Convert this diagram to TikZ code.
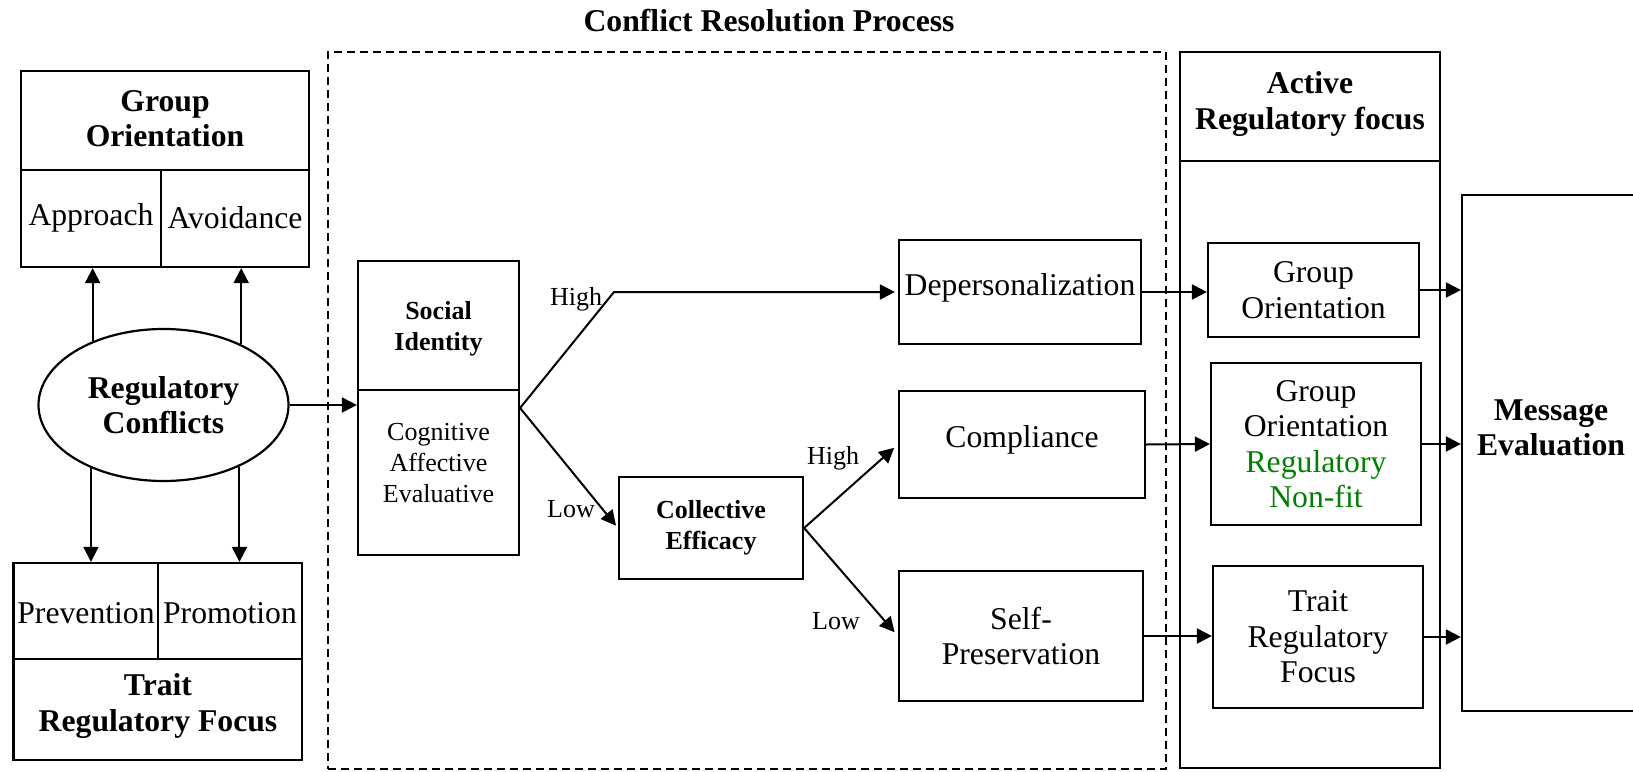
\documentclass[tikz,border=0pt]{standalone}
\usepackage{fontspec}
\setmainfont{Liberation Serif}
\usetikzlibrary{arrows.meta,shapes.geometric}

\definecolor{fitgreen}{RGB}{0,128,0}
\newcommand{\mainsize}{\fontsize{31.7}{35.5}\selectfont}
\newcommand{\labelsize}{\fontsize{26}{31}\selectfont}

\tikzset{
  frame/.style={draw, line width=2.2pt, inner sep=0pt},
  cell/.style={inner sep=0pt, align=center, font=\mainsize},
  smallcell/.style={inner sep=0pt, align=center, font=\labelsize},
  conn/.style={line width=2pt, -{Triangle[length=15pt,width=15pt]}},
  rule/.style={line width=2.2pt},
}

\begin{document}
\begin{tikzpicture}[x=1pt,y=-1pt]
\useasboundingbox (0,0) rectangle (1633,771);
\clip (0,0) rectangle (1633,771);
\fill[white] (0,0) rectangle (1633,771);

% heading and dashed process region
\node[cell, font=\mainsize\bfseries] (title) at (769,21) {Conflict Resolution Process};
\node[draw, line width=2pt, dash pattern=on 8pt off 5pt, inner sep=0pt,
      minimum width=838pt, minimum height=717pt] (process) at (747,410.5) {};

% group orientation (top left)
\node[frame, minimum width=288pt, minimum height=196pt] (goOuter) at (165,169) {};
\draw[rule] (goOuter.west |- 0,170) -- (goOuter.east |- 0,170);
\draw[rule] (161,170) -- (161,267);
\node[cell, font=\mainsize\bfseries] (goTitle) at (165,118.5) {Group\\Orientation};
\node[cell] (approach) at (91,218) {Approach};
\node[cell] (avoidance) at (235,218) {Avoidance};

% trait regulatory focus (bottom left)
\node[frame, minimum width=288.5pt, minimum height=197pt] (trOuter) at (157.75,661.5) {};
\draw[rule] (trOuter.west |- 0,659) -- (trOuter.east |- 0,659);
\draw[rule] (158,563) -- (158,659);
\node[cell] (prevention) at (86,613) {Prevention};
\node[cell] (promotion) at (230,613) {Promotion};
\node[cell, font=\mainsize\bfseries] (trTitle) at (158,706) {Trait\\Regulatory Focus};

% regulatory conflicts
\node[ellipse, draw, line width=2.2pt, minimum width=250pt, minimum height=152pt,
      inner sep=0pt, cell, font=\mainsize\bfseries] (rc) at (163.5,405) {Regulatory\\Conflicts};
\draw[conn] (rc.138.92) -- (rc.138.92 |- goOuter.south);
\draw[conn] (rc.38.45) -- (rc.38.45 |- goOuter.south);
\draw[conn] (rc.221.08) -- (rc.221.08 |- trOuter.north);
\draw[conn] (rc.321.55) -- (rc.321.55 |- trOuter.north);

% social identity
\node[frame, minimum width=161pt, minimum height=294pt] (si) at (438.5,408) {};
\draw[rule] (si.west |- 0,390) -- (si.east |- 0,390);
\node[smallcell, font=\labelsize\bfseries] (siTitle) at (438.5,328.5) {Social\\Identity};
\node[smallcell] (siBody) at (438.5,463) {Cognitive\\Affective\\Evaluative};
\draw[conn] (rc.east) -- (rc.east -| si.west);

% process outcomes
\node[frame, minimum width=242pt, minimum height=104pt] (dep) at (1020,292) {};
\node[cell] (depText) at (1020,288) {Depersonalization};
\node[frame, minimum width=246pt, minimum height=107pt] (comp) at (1022,444.5) {};
\node[cell] (compText) at (1022,440) {Compliance};
\node[frame, cell, minimum width=244pt, minimum height=130pt] (sp) at (1021,636) {Self-\\Preservation};
\node[frame, smallcell, font=\labelsize\bfseries, minimum width=184pt, minimum height=102pt] (ce) at (711,528) {Collective\\Efficacy};

\coordinate (hiBend) at (614,292);
\draw[conn, shorten >=3pt] (si.east) -- (hiBend) -- (dep.west);
\draw[conn, shorten >=3pt] (si.east) -- (ce.west);
\node[smallcell] (siHigh) at (576,299) {High};
\node[smallcell] (siLow) at (571,509) {Low};

\draw[conn, shorten >=5pt] (ce.east) -- (comp.west);
\draw[conn, shorten >=5pt] (ce.east) -- (sp.west);
\node[smallcell] (ceHigh) at (833,458) {High};
\node[smallcell] (ceLow) at (836,621) {Low};

% active regulatory focus
\node[frame, minimum width=260pt, minimum height=716pt] (arf) at (1310,410) {};
\draw[rule] (arf.west |- 0,161) -- (arf.east |- 0,161);
\node[cell, font=\mainsize\bfseries] (arfTitle) at (1310,104) {Active\\Regulatory focus};
\node[frame, cell, minimum width=211pt, minimum height=94pt] (go1) at (1313.5,290) {Group\\Orientation};
\node[frame, cell, minimum width=210pt, minimum height=162pt] (nf) at (1316,444)
  {Group\\Orientation\\\textcolor{fitgreen}{Regulatory}\\\textcolor{fitgreen}{Non-fit}};
\node[frame, cell, minimum width=210pt, minimum height=142pt] (trf) at (1318,637) {Trait\\Regulatory\\Focus};

\draw[conn] (dep.east) -- (dep.east -| go1.west);
\draw[conn] (comp.east) -- (nf.west);
\draw[conn] (sp.east) -- (sp.east -| trf.west);

% message evaluation
\node[frame, minimum width=178pt, minimum height=516pt] (me) at (1551,453) {};
\node[cell, font=\mainsize\bfseries] (meText) at (1551,428) {Message\\Evaluation};
\draw[conn] (go1.east) -- (go1.east -| me.west);
\draw[conn] (nf.east) -- (nf.east -| me.west);
\draw[conn] (trf.east) -- (trf.east -| me.west);
\end{tikzpicture}
\end{document}
